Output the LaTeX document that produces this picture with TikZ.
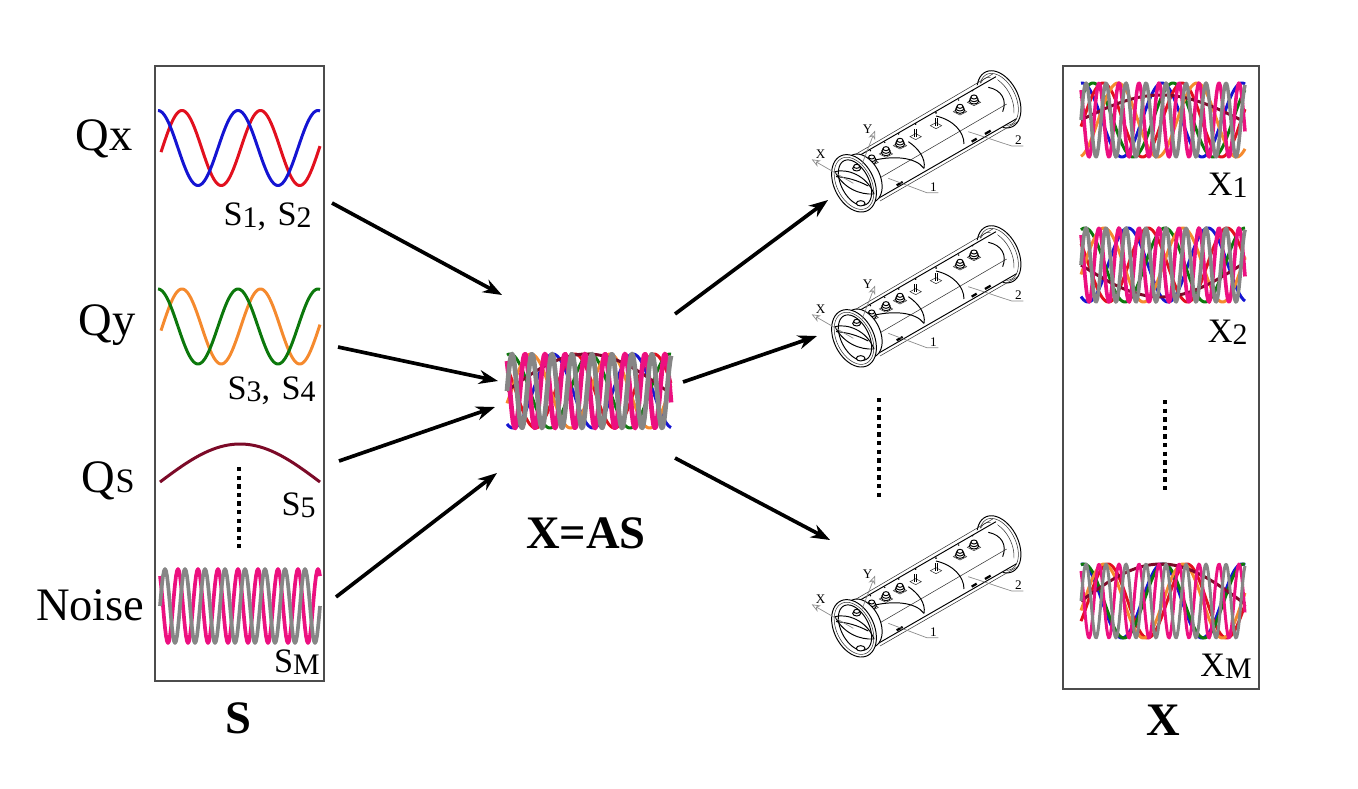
\documentclass[tikz,border=0pt]{standalone}
\usepackage{fontspec}
\setmainfont{Liberation Serif}
\usepackage{xcolor}
\usetikzlibrary{arrows.meta}

\definecolor{sigblue}{HTML}{1414D2}
\definecolor{sigred}{HTML}{E2101E}
\definecolor{siggreen}{HTML}{0C780C}
\definecolor{sigorange}{HTML}{F58A2E}
\definecolor{sigdark}{HTML}{7C0A28}
\definecolor{sigpink}{HTML}{EC1080}
\definecolor{siggray}{HTML}{868686}

\newcommand{\bigfont}{\fontsize{26.5}{30}\selectfont}
\newcommand{\midfont}{\fontsize{19.5}{22}\selectfont}
\newcommand{\subfont}{\fontsize{17}{20}\selectfont}
\newcommand{\sublabel}[2]{#1\lower1.5pt\hbox{\subfont #2}}
\newcommand{\wavepath}[7]{\draw[wave,#1] plot[domain=#2:#3,samples=161] (\x,{#4-#5*cos((\x-(#7))/#6*360)});}
\newcommand{\mixblock}[8]{%
  \pgfmathsetmacro{\xend}{#1+164}
  \wavepath{sigblue}{#1}{\xend}{#2}{37}{80}{#4}
  \wavepath{sigred}{#1}{\xend}{#2}{37}{79}{#5}
  \wavepath{siggreen}{#1}{\xend}{#2}{37}{80}{#6}
  \wavepath{sigorange}{#1}{\xend}{#2}{37}{79}{#7}
  \wavepath{sigdark}{#1}{\xend}{#2}{#3}{320}{#1+80}
  \wavepath{sigpink,line width=#8}{#1}{\xend}{#2}{37}{20}{#1+18}
  \wavepath{siggray,line width=#8}{#1}{\xend}{#2}{37}{20}{#1+5}
}
\newcommand{\tubering}[4]{plot[domain=0:360,samples=48,smooth] ({#1+#3*0.46*cos(\x)+#4*0.87*sin(\x)},{#2+#3*0.88*cos(\x)-#4*0.49*sin(\x)})}

\begin{document}
\begin{tikzpicture}[
  x=0.02cm, y=-0.02cm,
  >={Stealth[length=0.38cm,width=0.28cm]},
  wave/.style={line width=1.7pt, line join=round},
  bigtext/.style={font=\bigfont, anchor=base, inner sep=0pt},
  boldtext/.style={font=\bigfont\bfseries, anchor=base, inner sep=0pt},
  slabel/.style={font=\midfont, anchor=base east, inner sep=0pt},
  framebox/.style={draw=black!70, line width=0.7pt, inner sep=0pt},
  mainarrow/.style={->, line width=2.1pt, black},
  dotline/.style={line width=2.5pt, dash pattern=on 2.5pt off 2.4pt},
  tubeline/.style={line width=0.3pt, black!80},
  tubeedge/.style={line width=0.55pt, black},
  leader/.style={line width=0.4pt, black!45},
  tubetext/.style={font=\fontsize{7.5}{8}\selectfont, inner sep=0pt},
  tube/.pic={
    \begin{scope}[shift={(800,60)},scale=0.3333]
    % back flange
    \draw[tubeedge, fill=white] \tubering{597}{118}{92}{58};
    \draw[tubeline] \tubering{597}{118}{84}{50};
    \draw[tubeline] \tubering{590}{122}{76}{44};
    % body
    \fill[white] (170,285) -- (585,45) -- (650,178) -- (235,418) -- cycle;
    \draw[tubeedge] (172,290) -- (588,50);
    \draw[tubeline] (160,287) -- (578,42);
    \draw[tubeedge] (235,415) -- (650,176);
    \draw[tubeline] (240,423) -- (655,184);
    \draw[tubeline] (225,362) -- (620,132);
    \draw[line width=1.3pt] (290,376) -- (308,366) (515,245) -- (530,236) (555,222) -- (572,212);
    % ribs
    \draw[tubeedge] (225,300) .. controls (280,288) and (345,290) .. (372,325);
    \draw[tubeedge] (325,245) .. controls (355,265) and (378,295) .. (372,325);
    \draw[tubeedge] (408,168) .. controls (460,180) and (492,215) .. (492,252);
    \draw[tubeedge] (565,82) .. controls (605,90) and (622,120) .. (608,155);
    % bolts
    \foreach \bx/\by in {215/300, 258/275, 300/250, 480/148, 522/120}{
      \draw[tubeline, fill=white] (\bx-20,\by+7) -- (\bx,\by-5) -- (\bx+20,\by+7) -- (\bx,\by+17) -- cycle;
      \draw[tubeedge, fill=white] (\bx,\by+3) ellipse [x radius=14, y radius=9];
      \draw[tubeedge, fill=white] (\bx,\by-3) ellipse [x radius=12, y radius=8];
      \draw[tubeedge, fill=white] (\bx,\by-9) ellipse [x radius=9, y radius=6];
      \fill (\bx-4,\by-28) circle [radius=2.5];
    }
    \foreach \bx/\by in {347/230, 408/197}{
      \draw[tubeline, fill=white] (\bx-17,\by) -- (\bx,\by-9) -- (\bx+17,\by) -- (\bx,\by+9) -- cycle;
      \draw[tubeedge] (\bx-3,\by) -- (\bx-3,\by-24) (\bx+3,\by) -- (\bx+3,\by-24);
      \fill (\bx,\by-38) circle [radius=3];
    }
    % front flange
    \draw[tubeedge, fill=white] \tubering{190}{355}{78}{50};
    \draw[tubeedge, fill=white] \tubering{162}{370}{92}{60};
    \draw[tubeline] \tubering{162}{370}{84}{52};
    \draw[tubeedge] \tubering{165}{368}{74}{42};
    \draw[tubeedge] (105,335) .. controls (130,385) and (180,405) .. (222,402);
    \draw[tubeedge] (105,335) .. controls (140,325) and (200,345) .. (222,402);
    \draw[tubeedge] (108,350) .. controls (140,352) and (170,360) .. (205,378);
    % front bolts
    \draw[tubeedge, fill=white] (170,325) ellipse [x radius=12, y radius=8];
    \draw[tubeedge, fill=white] (170,319) ellipse [x radius=9, y radius=6];
    \draw[tubeedge, fill=white] (182,430) ellipse [x radius=13, y radius=8];
    % axes and leaders
    \draw[->, >={Stealth[open,length=5pt,width=4pt]}, leader] (160,370) -- (35,298);
    \draw[->, >={Stealth[open,length=5pt,width=4pt]}, leader] (185,315) -- (225,212);
    \draw[leader] (265,355) -- (380,398) -- (415,398);
    \draw[leader] (505,215) -- (635,258) -- (670,258);
    \node[tubetext] (-xaxis) at (62,282) {X};
    \node[tubetext] (-yaxis) at (203,207) {Y};
    \node[tubetext] (-one) at (400,382) {1};
    \node[tubetext] (-two) at (655,241) {2};
    \end{scope}
  }
]
\useasboundingbox (0,0) rectangle (1358,788);

% ---- Source box ----
\node[framebox, minimum width=3.38cm, minimum height=12.3cm] (sbox) at (239.5,373.5) {};

\wavepath{sigred}{161}{320}{148}{37.5}{78.5}{182}
\wavepath{sigblue}{158}{320}{148}{37.5}{80}{158}
\wavepath{sigorange}{161}{320}{326.5}{37.5}{78.5}{182}
\wavepath{siggreen}{158}{320}{326.5}{37.5}{80}{158}
\wavepath{sigdark}{160}{320}{482}{38}{320}{240}
\wavepath{sigpink,line width=2.1pt}{160}{320}{606}{37}{20}{178}
\wavepath{siggray,line width=2.1pt}{160}{320}{606}{37}{20}{165}

\draw[dotline] (239,467) -- (239,548);

% ---- Source labels ----
\node[bigtext, anchor=base east] (qx) at (133,150) {Qx};
\node[bigtext, anchor=base east] (qy) at (136,335) {Qy};
\node[bigtext, anchor=base east] (qs) at (135,492) {Q{\midfont S}};
\node[bigtext, anchor=base east] (noise) at (145,620) {Noise};

\node[slabel] (sone) at (312,225) {\sublabel{S}{1},\,\,\sublabel{S}{2}};
\node[slabel] (sthree) at (316,399) {\sublabel{S}{3},\,\,\sublabel{S}{4}};
\node[slabel] (sfive) at (316,515) {\sublabel{S}{5}};
\node[slabel] (sm) at (320,672) {\sublabel{S}{M}};
\node[boldtext] (stitle) at (238,733) {S};

% ---- Mixture ----
\mixblock{507}{391}{37}{553}{575}{590}{610}{2.7pt}
\node[boldtext] (mixtitle) at (586,548) {X=AS};

% ---- Tubes ----
\pic (tubeA) at (0,0) {tube};
\pic (tubeB) at (0,155) {tube};
\pic (tubeC) at (0,445) {tube};
\draw[dotline] (879,398) -- (879,497);

% ---- Output box ----
\node[framebox, minimum width=3.92cm, minimum height=12.46cm] (xbox) at (1161,377.5) {};

\mixblock{1081}{120}{25}{1082}{1103}{1093}{1118}{2pt}
\mixblock{1081}{265}{-32}{1128}{1148}{1165}{1183}{2.1pt}
\mixblock{1081}{601}{37}{1162}{1187}{1164}{1183}{1.7pt}
\draw[dotline, line width=1.8pt] (1165,400) -- (1165,493);

\node[slabel] (xone) at (1248,195) {\sublabel{X}{1}};
\node[slabel] (xtwo) at (1248,342) {\sublabel{X}{2}};
\node[slabel] (xm) at (1252,676) {\sublabel{X}{M}};
\node[boldtext] (xtitle) at (1163,735) {X};

% ---- Arrows ----
\coordinate (sa) at (332,203);
\coordinate (sb) at (338,347);
\coordinate (sc) at (339,461);
\coordinate (sd) at (336,597);
\coordinate (mixa) at (502,295);
\coordinate (mixb) at (498,381);
\coordinate (mixc) at (495,407);
\coordinate (mixd) at (497,473);
\coordinate (oa) at (675,314);
\coordinate (ob) at (683,382);
\coordinate (oc) at (675,458);
\coordinate (ta) at (828,200);
\coordinate (tb) at (817,336);
\coordinate (tc) at (830,540);

\draw[mainarrow] (sa) -- (mixa);
\draw[mainarrow] (sb) -- (mixb);
\draw[mainarrow] (sc) -- (mixc);
\draw[mainarrow] (sd) -- (mixd);
\draw[mainarrow] (oa) -- (ta);
\draw[mainarrow] (ob) -- (tb);
\draw[mainarrow] (oc) -- (tc);

\end{tikzpicture}
\end{document}
